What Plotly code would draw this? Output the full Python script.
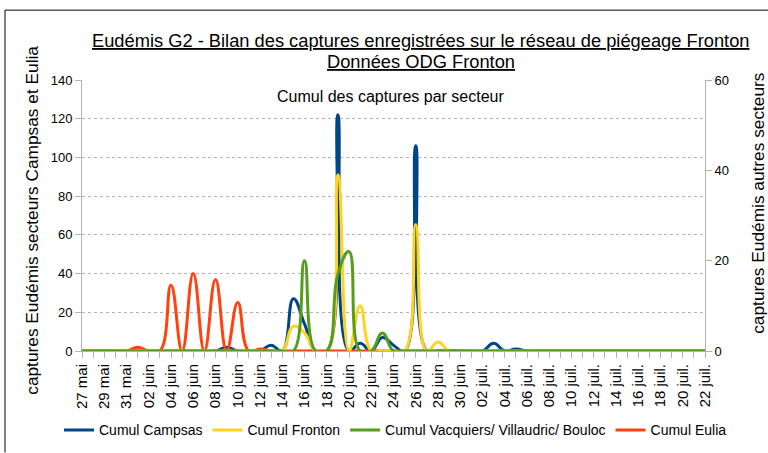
import pandas as pd
import plotly.graph_objects as go

# ---- data (daily, 27 mai -> 22 juil) ----
dates = pd.date_range("2023-05-27", "2023-07-22", freq="D")

campsas = [0, 0, 0, 0, 0, 0, 0, 0, 0, 0,
           0, 0, 0, 2, 0, 0, 0, 3, 0, 27,
           14, 0, 0, 122, 0, 4, 0, 7, 3, 0,
           106, 0, 0, 0, 0, 0, 0, 4, 0, 1,
           0, 0, 0, 0, 0, 0, 0, 0, 0, 0,
           0, 0, 0, 0, 0, 0, 0]
fronton = [0, 0, 0, 0, 0, 0, 0, 0, 0, 0,
           0, 0, 0, 0, 0, 0, 0, 0, 0, 5.5,
           4, 0, 0, 39, 0, 10, 0, 0, 0, 0,
           28, 0, 2, 0, 0, 0, 0, 0, 0, 0,
           0, 0, 0, 0, 0, 0, 0, 0, 0, 0,
           0, 0, 0, 0, 0, 0, 0]
vacquiers = [0, 0, 0, 0, 0, 0, 0, 0, 0, 0,
             0, 0, 0, 0, 0, 0, 0, 0, 0, 0,
             20, 0, 0, 17, 22, 0, 0, 4, 0, 0,
             0, 0, 0, 0, 0, 0, 0, 0, 0, 0,
             0, 0, 0, 0, 0, 0, 0, 0, 0, 0,
             0, 0, 0, 0, 0, 0, 0]
eulia = [0, 0, 0, 0, 0, 2, 0, 0, 34, 0,
         40, 0, 37, 0, 25, 0, 1, 0, 0, 0,
         0, 0, 0, 0, 0, 0, 0, 0, 0, 0,
         0, 0, 0, 0, 0, 0, 0, 0, 0, 0,
         0, 0, 0, 0, 0, 0, 0, 0, 0, 0,
         0, 0, 0, 0, 0, 0, 0]

tick_dates = pd.date_range("2023-05-27", "2023-07-22", freq="2D")
tick_labels = ["27 mai", "29 mai", "31 mai", "02 juin", "04 juin", "06 juin",
               "08 juin", "10 juin", "12 juin", "14 juin", "16 juin", "18 juin",
               "20 juin", "22 juin", "24 juin", "26 juin", "28 juin", "30 juin",
               "02 juil.", "04 juil.", "06 juil.", "08 juil.", "10 juil.",
               "12 juil.", "14 juil.", "16 juil.", "18 juil.", "20 juil.",
               "22 juil."]

series = [
    ("Cumul Campsas", campsas, "#004586", "y"),
    ("Cumul Fronton", fronton, "#ffd320", "y2"),
    ("Cumul Vacquiers/ Villaudric/ Bouloc", vacquiers, "#579d1c", "y2"),
    ("Cumul Eulia", eulia, "#ff420e", "y"),
]

FONT = "Liberation Sans, Arial, sans-serif"

fig = go.Figure()
for name, vals, col, ax in series:
    fig.add_trace(go.Scatter(
        x=dates, y=vals, name=name, yaxis=ax, mode="lines",
        line=dict(color=col, width=3, shape="spline", smoothing=1.3),
    ))

W, H = 768, 453
L, R, T, B = 82, 705, 80, 351.5


def px(x):
    return (x - L) / (R - L)


def py(y):
    return (B - y) / (B - T)


fig.update_layout(
    width=W, height=H,
    margin=dict(l=L, r=W - R, t=T, b=H - B, autoexpand=False),
    paper_bgcolor="white", plot_bgcolor="white",
    font=dict(family=FONT, color="#000000", size=13),
    showlegend=True,
    legend=dict(orientation="h", x=px(59), xanchor="left", y=py(431), yanchor="middle",
                font=dict(size=14, family=FONT), itemwidth=30,
                tracegroupgap=0, bgcolor="rgba(0,0,0,0)"),
    xaxis=dict(
        type="date",
        range=[dates[0], dates[-1]],
        tickvals=tick_dates, ticktext=tick_labels, tickangle=-90,
        tickfont=dict(size=15, family=FONT, color="#000000"),
        showgrid=False, zeroline=False,
        showline=True, linecolor="#b3b3b3", linewidth=1,
        ticks="outside", ticklen=6, tickcolor="#b3b3b3",
        minor=dict(dtick=86400000, ticks="outside", ticklen=6, tickcolor="#b3b3b3",
                   showgrid=False),
    ),
    yaxis=dict(
        range=[0, 140], dtick=20,
        tickfont=dict(size=13, family=FONT, color="#000000"),
        showgrid=True, gridcolor="#b3b3b3", griddash="dot", gridwidth=1,
        zeroline=False, showline=True, linecolor="#b3b3b3",
        ticks="outside", ticklen=6, tickcolor="#b3b3b3",
    ),
    yaxis2=dict(
        overlaying="y", side="right",
        range=[0, 60], dtick=20,
        tickfont=dict(size=13, family=FONT, color="#000000"),
        showgrid=False, zeroline=False, showline=True, linecolor="#b3b3b3",
        ticks="outside", ticklen=6, tickcolor="#b3b3b3",
    ),
)

annotations = [
    dict(text="<u>Eudémis G2 - Bilan des captures enregistrées sur le réseau de piégeage Fronton</u>",
         x=px(421), y=py(40), font=dict(size=18.3)),
    dict(text="<u>Données ODG Fronton</u>", x=px(421), y=py(61), font=dict(size=18.3)),
    dict(text="Cumul des captures par secteur", x=px(390), y=py(97), font=dict(size=16)),
    dict(text="captures Eudémis secteurs Campsas et Eulia", x=px(32), y=py(221),
         textangle=-90, font=dict(size=17.3)),
    dict(text="captures Eudémis autres secteurs", x=px(758), y=py(203),
         textangle=-90, font=dict(size=17.3)),
]
for a in annotations:
    fig.add_annotation(xref="paper", yref="paper", showarrow=False,
                       xanchor="center", yanchor="middle",
                       font=dict(family=FONT, color="#000000", size=a["font"]["size"]),
                       **{k: v for k, v in a.items() if k != "font"})

# outer frame (left and top edges)
fig.add_shape(type="line", xref="paper", yref="paper",
              x0=px(5), x1=px(5), y0=py(10), y1=py(453), line=dict(color="#000000", width=1))
fig.add_shape(type="line", xref="paper", yref="paper",
              x0=px(5), x1=px(768), y0=py(10), y1=py(10), line=dict(color="#000000", width=1))

fig.write_html("out.html", post_script="document.body.style.margin='0';",
               config={"displayModeBar": False})
